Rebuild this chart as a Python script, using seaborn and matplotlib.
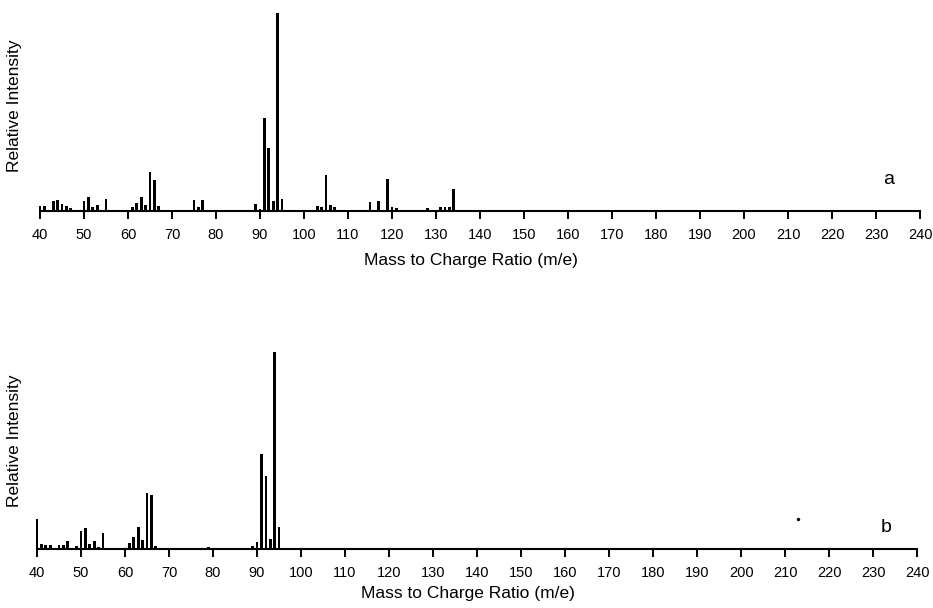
import matplotlib
matplotlib.use("Agg")
import matplotlib.pyplot as plt
import seaborn as sns
import pandas as pd

# Spectrum a: m/z and relative intensity (% of base peak)
mz_a = [40, 41, 43, 44, 45, 46, 47, 50, 51, 52, 53, 55, 61, 62, 63, 64, 65, 66, 67,
        75, 76, 77, 89, 90, 91, 92, 93, 94, 95, 103, 104, 105, 106, 107,
        115, 117, 119, 120, 121, 128, 131, 132, 133, 134]
int_a = [2.5, 2.5, 5, 5.5, 3.5, 2.5, 1.5, 5, 7, 2, 3, 6, 2, 4, 7, 3, 19.5, 15.5, 2.5,
         5.5, 2, 5.5, 3.5, 1, 47, 32, 5, 100, 6, 2.5, 2, 18, 3, 2,
         4.5, 5, 16, 2, 1.5, 1.5, 2, 2, 2, 11]

# Spectrum b
mz_b = [40, 41, 42, 43, 45, 46, 47, 49, 50, 51, 52, 53, 54, 55, 61, 62, 63, 64, 65, 66, 67,
        79, 89, 90, 91, 92, 93, 94, 95]
int_b = [15, 2.5, 2, 2, 2, 2, 4, 1.5, 9, 10.5, 2.5, 4, 1, 8, 3, 6, 11, 4.5, 28.5, 27.5, 1.5,
         1, 1.5, 3.5, 48, 37, 5, 100, 11]

# Isolated speck in spectrum b
speck_mz = [213]
speck_int = [15]

xticks = list(range(40, 241, 10))
panel_tags = ["a", "b"]

sns.set_style("white", {"text.color": "black", "axes.labelcolor": "black",
                        "xtick.color": "black", "axes.edgecolor": "black"})
plt.rcParams["font.family"] = ["Liberation Sans", "DejaVu Sans"]

fig = plt.figure(figsize=(9.33, 6.08), dpi=100)
ax_a = fig.add_axes([0.0405, 0.653, 0.948, 0.3257])
ax_b = fig.add_axes([0.0373, 0.097, 0.948, 0.324])

spectra = [(ax_a, mz_a, int_a), (ax_b, mz_b, int_b)]
for (ax, mz, inten), tag in zip(spectra, panel_tags):
    df = pd.DataFrame({"mz": mz, "intensity": inten})
    sns.barplot(data=df, x="mz", y="intensity", native_scale=True, width=0.6,
                color="black", linewidth=0, saturation=1, ax=ax)
    ax.set_xlim(39.5, 240.5)
    ax.set_ylim(0, 100)
    for side in ("top", "right", "left"):
        ax.spines[side].set_visible(False)
    ax.spines["bottom"].set_bounds(40, 240)
    ax.spines["bottom"].set_linewidth(1.5)
    ax.spines["bottom"].set_color("black")
    ax.set_xticks(xticks)
    ax.set_xticklabels([str(t) for t in xticks])
    ax.tick_params(axis="x", direction="out", length=6, width=1.4, pad=6,
                   labelsize=10.5, colors="black", bottom=True)
    ax.set_yticks([])
    ax.set_xlabel("Mass to Charge Ratio (m/e)", fontsize=12.5, color="black")
    ax.set_ylabel("Relative Intensity", fontsize=12.5, color="black")
    ax.text(0.962, 0.16 if tag == "a" else 0.11, tag, transform=ax.transAxes,
            fontsize=14, ha="center", va="center", color="black")

ax_a.yaxis.set_label_coords(-0.018, 0.53)
ax_b.yaxis.set_label_coords(-0.015, 0.55)
ax_a.xaxis.set_label_coords(0.49, -0.21)
ax_b.xaxis.set_label_coords(0.49, -0.19)

sns.scatterplot(x=speck_mz, y=speck_int, color="black", s=6, linewidth=0, ax=ax_b)

fig.savefig("out.png", dpi=100, facecolor="white")
